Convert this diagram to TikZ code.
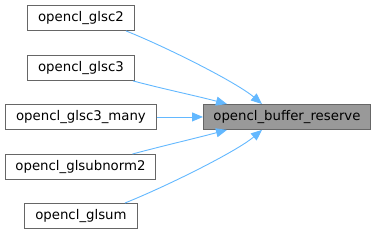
\documentclass[tikz,border=0pt]{standalone}
\usepackage{fontspec}
\setmainfont{DejaVu Sans}
\usetikzlibrary{arrows.meta}
\definecolor{edgeblue}{HTML}{63B8FF}
\definecolor{boxborder}{HTML}{666666}
\definecolor{boxfill}{HTML}{999999}
\tikzset{
  fn/.style={draw=boxborder, line width=0.9pt, fill=white, inner sep=0pt, minimum height=25pt, font=\fontsize{13.3}{15}\selectfont, anchor=north west},
  edge/.style={draw=edgeblue, line width=0.9pt, -{Triangle[length=11pt,width=9pt]}},
}
\begin{document}
\begin{tikzpicture}[x=1pt,y=-1pt]
\useasboundingbox (0,0) rectangle (376,233);
\node[fn, minimum width=107pt] (a) at (27,5) {opencl\_glsc2};
\node[fn, minimum width=107pt] (b) at (27,55) {opencl\_glsc3};
\node[fn, minimum width=151pt] (c) at (5,104) {opencl\_glsc3\_many};
\node[fn, minimum width=150pt] (d) at (5,154) {opencl\_glsubnorm2};
\node[fn, minimum width=113pt] (e) at (24,203) {opencl\_glsum};
\node[fn, fill=boxfill, minimum width=167pt] (t) at (203,104) {opencl\_buffer\_reserve};
\coordinate (ta) at ([xshift=59pt]t.north west);
\coordinate (tb) at ([xshift=24pt]t.north west);
\coordinate (td) at ([xshift=24pt]t.south west);
\coordinate (te) at ([xshift=59pt]t.south west);
\draw[edge] ([xshift=45pt]a.south) .. controls +(40,16) and +(-26,-22) .. (ta);
\draw[edge] ([xshift=52pt]b.south) .. controls +(30,8) and +(-30,-8) .. (tb);
\draw[edge] (c.east) -- (t.west);
\draw[edge] ([xshift=52pt]d.north) .. controls +(30,-8) and +(-30,8) .. (td);
\draw[edge] ([xshift=44pt]e.north) .. controls +(40,-16) and +(-26,22) .. (te);
\end{tikzpicture}
\end{document}
